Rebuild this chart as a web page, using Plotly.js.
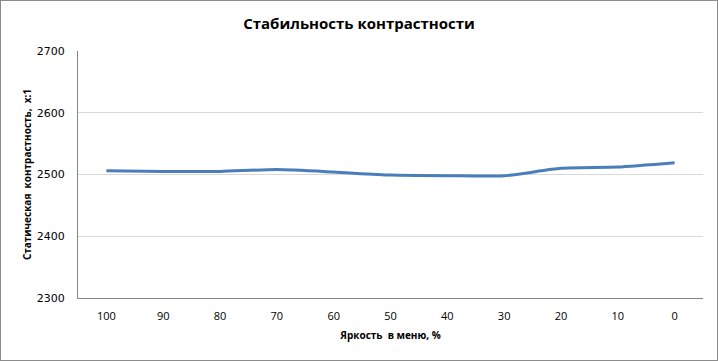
<!DOCTYPE html>
<html><head><meta charset="utf-8">
<script src="https://cdn.plot.ly/plotly-3.0.1.min.js"></script>
<style>
html,body{margin:0;padding:0;background:#fff;}
#frame{width:716px;height:359px;border:1px solid #8c8c8c;}
</style></head>
<body><div id="frame"><div id="chart" style="width:716px;height:359px;"></div></div>
<script>
const brightness = ["100","90","80","70","60","50","40","30","20","10","0"];
const contrast = [2506, 2505, 2505, 2508, 2504, 2499, 2498, 2498, 2510, 2512, 2519];
const yTicks = [2300, 2400, 2500, 2600, 2700];

const trace = {
  x: brightness, y: contrast, type: 'scatter', mode: 'lines',
  line: {color: '#4a7ebb', width: 3, shape: 'spline', smoothing: 0.6},
  hoverinfo: 'skip'
};
const layout = {
  width: 716, height: 359,
  margin: {l: 77, r: 14, t: 50, b: 62},
  paper_bgcolor: '#ffffff', plot_bgcolor: '#ffffff',
  showlegend: false,
  title: {text: 'Стабильность контрастности', x: 0.5, xanchor: 'center', y: 0.938, yanchor: 'middle',
    font: {family: 'Open Sans, sans-serif', size: 15, color: '#000', weight: 'bold'}},
  xaxis: {type: 'category', range: [-0.5, 10.5], showgrid: false, zeroline: false,
    showline: true, linecolor: '#868686', linewidth: 1, ticks: '',
    tickfont: {family: 'Open Sans, sans-serif', size: 11, color: '#000'},
    ticklabelstandoff: 8,
    title: {text: 'Яркость  в меню, %', standoff: 9,
      font: {family: 'Open Sans, sans-serif', size: 10, color: '#000', weight: 'bold'}}},
  yaxis: {range: [2300, 2700], tickvals: yTicks, ticktext: yTicks.map(String),
    showgrid: true, gridcolor: '#d9d9d9', gridwidth: 1, zeroline: false,
    showline: true, linecolor: '#868686', linewidth: 1, ticks: '',
    tickfont: {family: 'DejaVu Sans, Verdana, sans-serif', size: 11, color: '#000'},
    ticklabelstandoff: 10,
    title: {text: 'Статическая  контрастность,  x:1', standoff: 3,
      font: {family: 'Open Sans, sans-serif', size: 10, color: '#000', weight: 'bold'}}}
};
Plotly.newPlot('chart', [trace], layout, {staticPlot: true, displayModeBar: false});
</script></body></html>
